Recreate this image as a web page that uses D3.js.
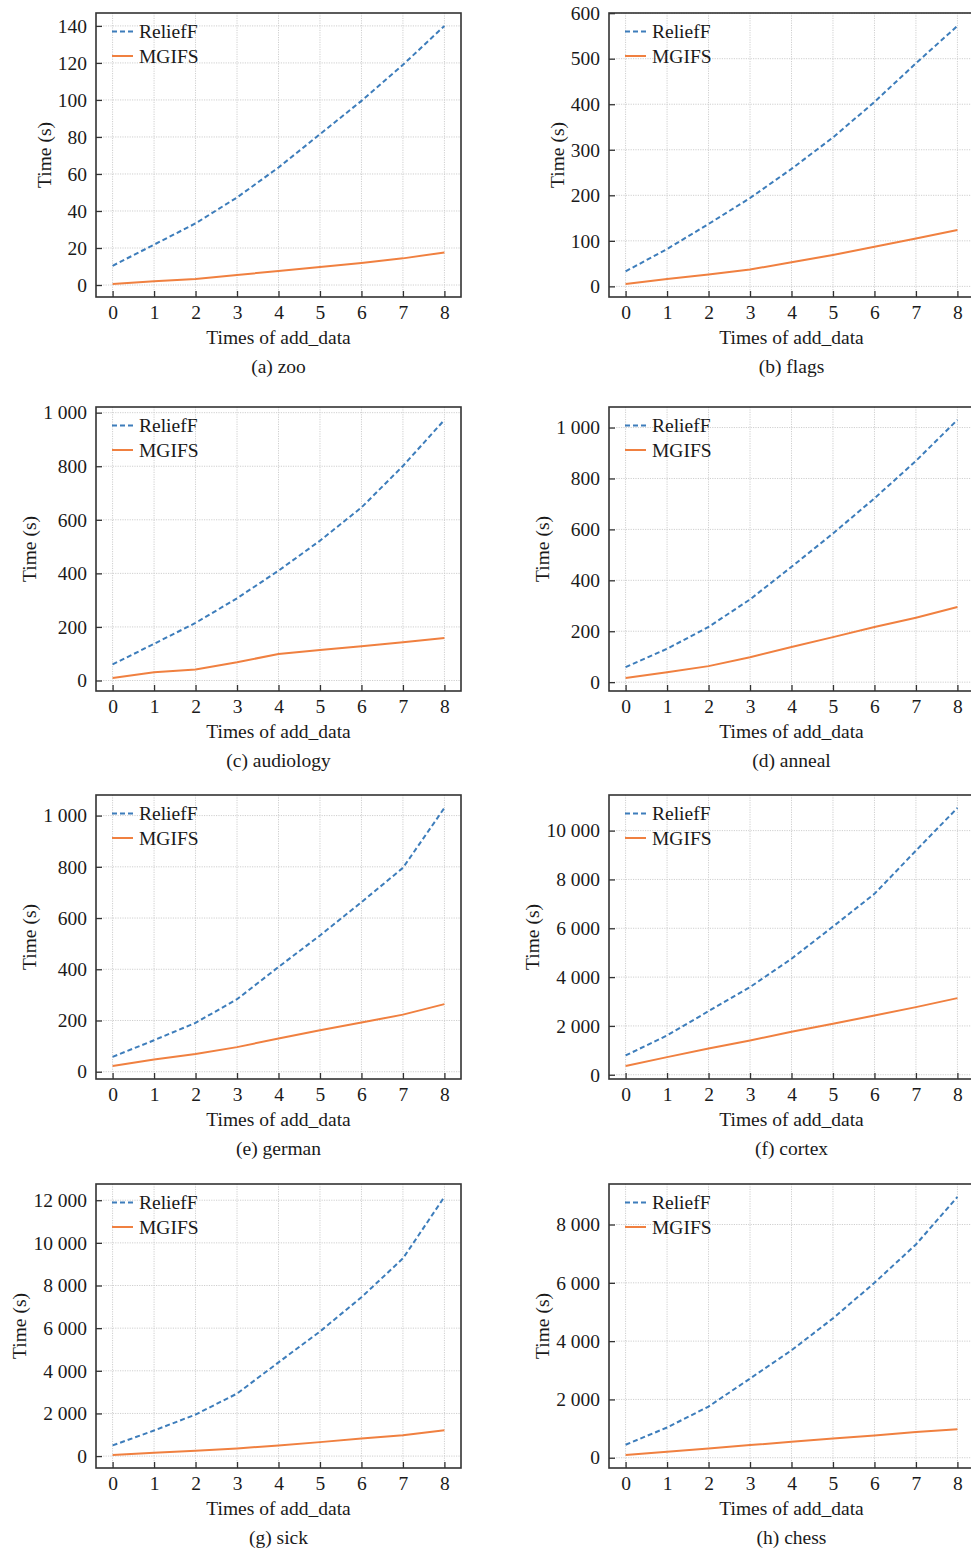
<!DOCTYPE html>
<html>
<head>
<meta charset="utf-8">
<script src="https://cdn.jsdelivr.net/npm/d3@7"></script>
<style>
	body { margin: 0; background: #fff; }
	svg text { font-family: "Liberation Serif", "Times New Roman", serif; fill: #1a1a1a; }
</style>
</head>
<body>
<div id="chart"></div>
<script>
'use strict';

// data
var addTimes = [0, 1, 2, 3, 4, 5, 6, 7, 8];
var seriesNames = ['ReliefF', 'MGIFS'];

var reliefZoo = [10.4, 21.8, 33.3, 47.3, 63.5, 81.5, 99.5, 119, 140];
var mgifsZoo = [0.5, 2, 3.2, 5.4, 7.6, 9.7, 11.9, 14.4, 17.6];
var ticksZoo = [0, 20, 40, 60, 80, 100, 120, 140];

var reliefFlags = [33, 82, 137, 194, 258, 327, 405, 490, 572];
var mgifsFlags = [5, 16, 26, 37, 53, 69, 87, 105, 124];
var ticksFlags = [0, 100, 200, 300, 400, 500, 600];

var reliefAudiology = [60, 137, 215, 307, 410, 522, 646, 801, 973];
var mgifsAudiology = [9, 31, 41, 68, 99, 114, 128, 143, 159];
var ticksAudiology = [0, 200, 400, 600, 800, 1000];

var reliefAnneal = [59, 131, 217, 325, 453, 584, 722, 869, 1030];
var mgifsAnneal = [16, 39, 63, 98, 138, 177, 217, 253, 295];
var ticksAnneal = [0, 200, 400, 600, 800, 1000];

var reliefGerman = [58, 123, 191, 283, 409, 532, 662, 796, 1030];
var mgifsGerman = [22, 48, 69, 96, 130, 162, 192, 223, 264];
var ticksGerman = [0, 200, 400, 600, 800, 1000];

var reliefCortex = [790, 1610, 2605, 3590, 4750, 6070, 7410, 9180, 10930];
var mgifsCortex = [355, 723, 1078, 1405, 1760, 2087, 2428, 2770, 3138];
var ticksCortex = [0, 2000, 4000, 6000, 8000, 10000];

var reliefSick = [500, 1200, 1948, 2930, 4395, 5844, 7450, 9272, 12155];
var mgifsSick = [47, 156, 250, 358, 500, 655, 826, 982, 1216];
var ticksSick = [0, 2000, 4000, 6000, 8000, 10000, 12000];

var reliefChess = [445, 1038, 1757, 2716, 3686, 4781, 6002, 7315, 8947];
var mgifsChess = [91, 205, 320, 434, 548, 662, 765, 879, 981];
var ticksChess = [0, 2000, 4000, 6000, 8000];

var captions = ['(a) zoo', '(b) flags', '(c) audiology', '(d) anneal',
	'(e) german', '(f) cortex', '(g) sick', '(h) chess'];

var panels = [
	[reliefZoo, mgifsZoo, ticksZoo],
	[reliefFlags, mgifsFlags, ticksFlags],
	[reliefAudiology, mgifsAudiology, ticksAudiology],
	[reliefAnneal, mgifsAnneal, ticksAnneal],
	[reliefGerman, mgifsGerman, ticksGerman],
	[reliefCortex, mgifsCortex, ticksCortex],
	[reliefSick, mgifsSick, ticksSick],
	[reliefChess, mgifsChess, ticksChess]
];

// layout
var WIDTH = 971,
	HEIGHT = 1551,
	PLOT_W = 365,
	PLOT_H = 284,
	COL_X = [96, 609],
	ROW_Y = [13, 407, 795, 1184];

var COLORS = ['#3d7dbb', '#f08040'];
var FONT = 19.5;
var Y_PAD = 9;

var svg = d3.select('#chart').append('svg')
	.attr('width', WIDTH)
	.attr('height', HEIGHT);

// "1 000" style thousands
var fmt = function (v) {
	return d3.format(',')(v).replace(/,/g, ' ');
};

panels.forEach(function (p, i) {
	var left = COL_X[i % 2],
		top = ROW_Y[Math.floor(i / 2)];
	var relief = p[0], mgifs = p[1], yTicks = p[2];

	var g = svg.append('g').attr('transform', 'translate(' + left + ',' + top + ')');

	var all = relief.concat(mgifs);
	var lo = d3.min(all), hi = d3.max(all), pad = (hi - lo) * 0.05;

	var x = d3.scaleLinear().domain([-0.4, 8.4]).range([0, PLOT_W]);
	var y = d3.scaleLinear().domain([lo - pad, hi + pad]).range([PLOT_H, 0]);

	// clip for lines
	g.append('clipPath').attr('id', 'clip' + i)
		.append('rect').attr('width', PLOT_W).attr('height', PLOT_H);

	// grid
	g.append('g').selectAll('line').data(addTimes).enter().append('line')
		.attr('x1', function (d) { return x(d); })
		.attr('x2', function (d) { return x(d); })
		.attr('y1', 0).attr('y2', PLOT_H)
		.attr('stroke', '#cfcfcf').attr('stroke-width', 1)
		.attr('stroke-dasharray', '1.2,1.2');
	g.append('g').selectAll('line').data(yTicks).enter().append('line')
		.attr('x1', 0).attr('x2', PLOT_W)
		.attr('y1', function (d) { return y(d); })
		.attr('y2', function (d) { return y(d); })
		.attr('stroke', '#cfcfcf').attr('stroke-width', 1)
		.attr('stroke-dasharray', '1.2,1.2');

	// lines
	var line = d3.line()
		.x(function (d, k) { return x(addTimes[k]); })
		.y(function (d) { return y(d); });

	g.append('path').datum(relief)
		.attr('clip-path', 'url(#clip' + i + ')')
		.attr('d', line)
		.attr('fill', 'none')
		.attr('stroke', COLORS[0])
		.attr('stroke-width', 2)
		.attr('stroke-dasharray', '5,3');

	g.append('path').datum(mgifs)
		.attr('clip-path', 'url(#clip' + i + ')')
		.attr('d', line)
		.attr('fill', 'none')
		.attr('stroke', COLORS[1])
		.attr('stroke-width', 2);

	// axes with inward ticks
	var xAxis = g.append('g').attr('transform', 'translate(0,' + PLOT_H + ')')
		.call(d3.axisBottom(x).tickValues(addTimes).tickSize(-6).tickPadding(8).tickFormat(d3.format('d')));
	var yAxis = g.append('g')
		.call(d3.axisLeft(y).tickValues(yTicks).tickSize(-6).tickPadding(Y_PAD).tickFormat(fmt));

	[xAxis, yAxis].forEach(function (ax) {
		ax.select('.domain').remove();
		ax.selectAll('.tick line').attr('stroke', '#333').attr('stroke-width', 1.3);
		ax.selectAll('.tick text')
			.attr('font-size', FONT)
			.attr('font-family', '"Liberation Serif", serif')
			.attr('fill', '#1a1a1a');
	});

	// frame
	g.append('rect')
		.attr('width', PLOT_W).attr('height', PLOT_H)
		.attr('fill', 'none')
		.attr('stroke', '#333')
		.attr('stroke-width', 1.6);

	// y label placed left of widest tick label
	var minX = 0;
	yAxis.selectAll('.tick text').each(function () {
		minX = Math.min(minX, -Y_PAD - this.getComputedTextLength());
	});
	g.append('text')
		.attr('transform', 'translate(' + (minX - 14) + ',' + (PLOT_H / 2) + ') rotate(-90)')
		.attr('text-anchor', 'middle')
		.attr('dy', '0.35em')
		.attr('font-size', FONT)
		.text('Time (s)');

	// x label and caption
	g.append('text')
		.attr('x', PLOT_W / 2).attr('y', PLOT_H + 47)
		.attr('text-anchor', 'middle')
		.attr('font-size', FONT)
		.text('Times of add_data');
	g.append('text')
		.attr('x', PLOT_W / 2).attr('y', PLOT_H + 76)
		.attr('text-anchor', 'middle')
		.attr('font-size', FONT)
		.text(captions[i]);

	// legend
	var leg = g.append('g').attr('transform', 'translate(16,18.5)');
	seriesNames.forEach(function (name, k) {
		var row = leg.append('g').attr('transform', 'translate(0,' + (k * 24.5) + ')');
		row.append('line')
			.attr('x1', 0).attr('x2', 21).attr('y1', 0).attr('y2', 0)
			.attr('stroke', COLORS[k])
			.attr('stroke-width', 2)
			.attr('stroke-dasharray', k === 0 ? '5,3' : null);
		row.append('text')
			.attr('x', 27).attr('dy', '0.35em')
			.attr('font-size', FONT)
			.text(name);
	});
});
</script>
</body>
</html>
